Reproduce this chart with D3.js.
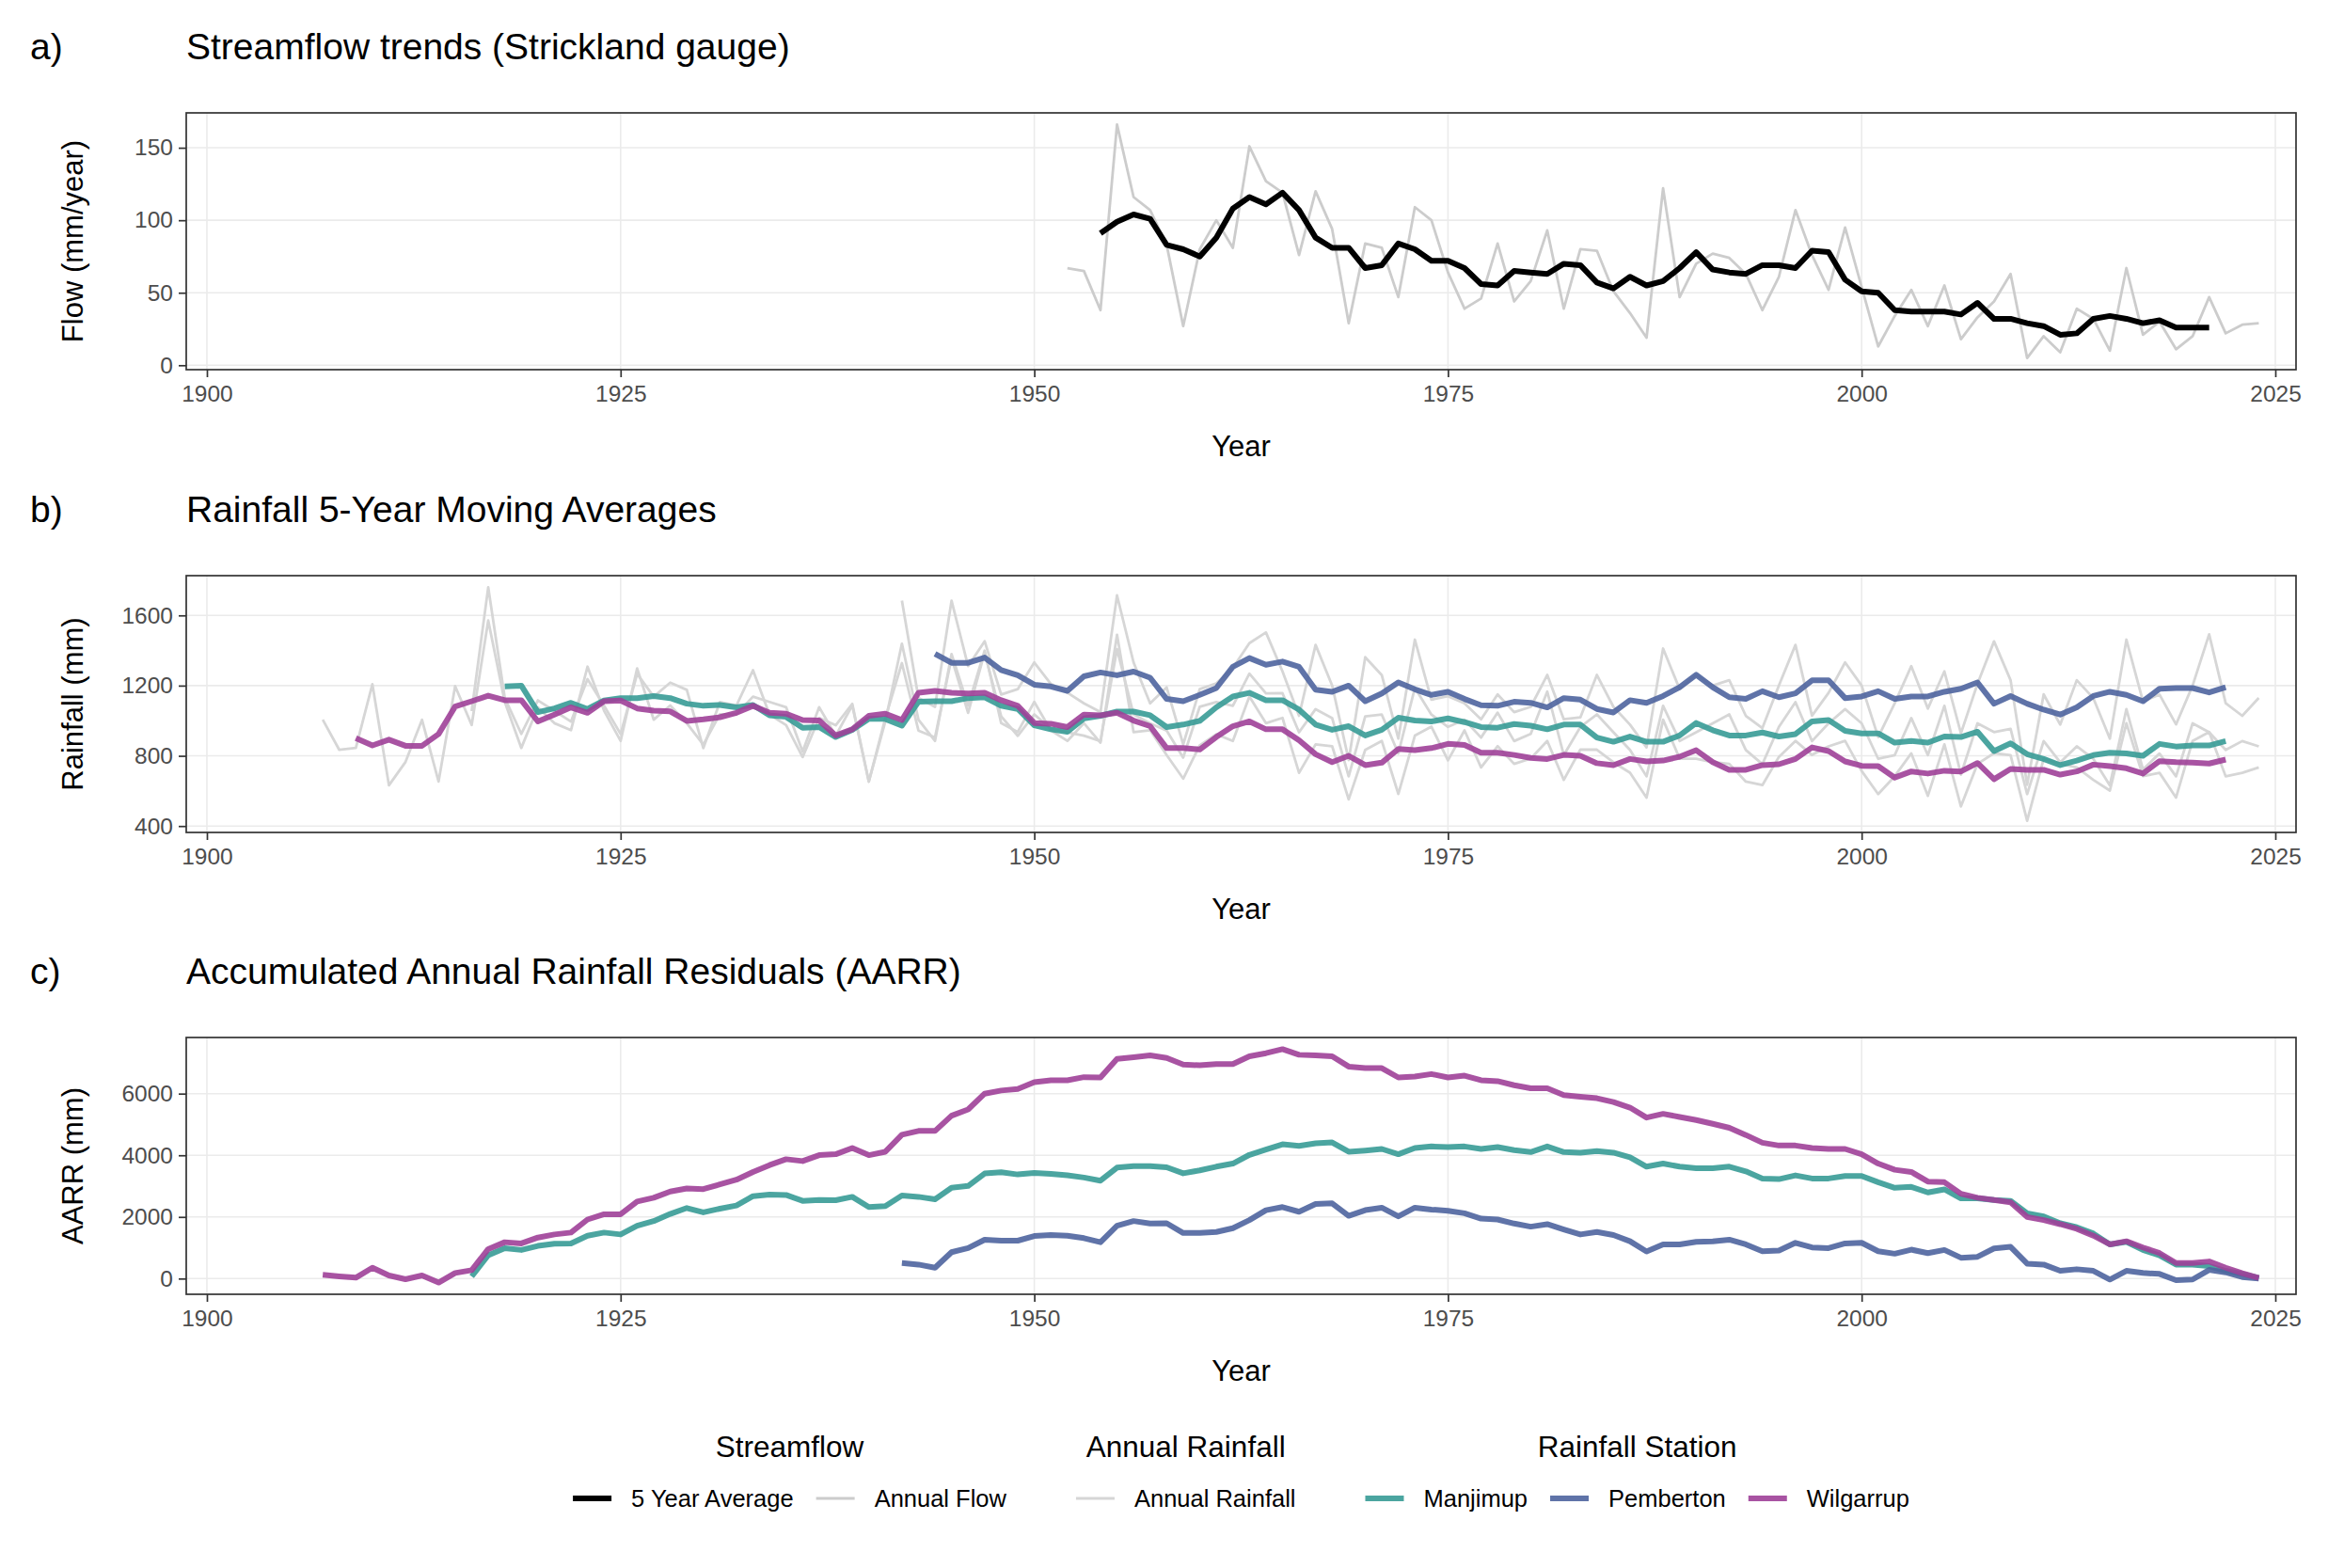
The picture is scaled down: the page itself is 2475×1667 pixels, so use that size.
<!DOCTYPE html>
<html>
<head>
<meta charset="utf-8">
<script src="https://cdn.jsdelivr.net/npm/d3@7"></script>
<style>
  body { margin: 0; background: #fff; }
  svg { display: block; }
  text { font-family: "Liberation Sans", Arial, Helvetica, sans-serif; }
</style>
</head>
<body>
<svg id="chart"></svg>
<script>
// ---- data ----
const xTicks = [1900, 1925, 1950, 1975, 2000, 2025]
const flowTicks = [0, 50, 100, 150]
const rainTicks = [400, 800, 1200, 1600]
const aarrTicks = [0, 2000, 4000, 6000]

const stations = ['Manjimup', 'Pemberton', 'Wilgarrup']

// Strickland gauge streamflow, mm/year
const flowStart = 1952
const annualFlow = [67, 65, 38, 166, 116, 107, 83, 27, 80, 100, 81, 151, 127, 119, 76, 120, 94, 29, 84, 81,
  47, 109, 100, 64, 39, 46, 84, 44, 58, 93, 39, 80, 79, 51, 36, 19, 122, 47, 70, 77,
  74, 63, 38, 61, 107, 76, 52, 95, 54, 13, 34, 52, 27, 55, 18, 33, 44, 63, 5, 20,
  9, 39, 32, 10, 67, 21, 30, 11, 20, 47, 22, 28, 29]
const flowAvgStart = 1954
const flowAvg5 = [91, 99, 104, 101, 83, 80, 75, 88, 108, 116, 111, 119, 107, 88, 81, 81, 67, 69, 84, 80,
  72, 72, 67, 56, 55, 65, 64, 63, 70, 69, 57, 53, 61, 55, 58, 67, 78, 66, 64, 63,
  69, 69, 67, 79, 78, 59, 51, 50, 38, 37, 37, 37, 35, 43, 32, 32, 29, 27, 21, 22,
  32, 34, 32, 29, 31, 26, 26, 26]

// annual rainfall, mm
const manjimupStart = 1916
const manjimupRain = [1055, 1760, 1130, 925, 1116, 1056, 995, 1237, 1086, 924, 1267, 1137, 1217, 1176, 844, 1106, 1086, 1288, 1035, 975,
  793, 1016, 974, 1096, 653, 1015, 1328, 944, 905, 1358, 1045, 1389, 1025, 914, 1036, 955, 934, 915, 884, 1408,
  1036, 985, 944, 790, 1080, 1106, 1085, 1268, 1156, 1157, 934, 1066, 1015, 683, 1025, 1035, 814, 1187, 1035, 965,
  1005, 904, 1046, 884, 925, 1166, 804, 964, 1036, 934, 834, 683, 1085, 885, 934, 985, 1036, 833, 753, 965,
  1106, 884, 985, 1066, 985, 783, 804, 1015, 804, 1085, 693, 985, 935, 954, 582, 884, 763, 854, 783, 632,
  1066, 723, 813, 683, 985, 934, 834, 884, 854]
const pembertonStart = 1942
const pembertonRain = [1684, 1130, 1079, 1684, 1311, 1453, 1149, 1180, 1332, 1210, 1160, 1099, 1049, 1714, 1332, 1099, 1190, 865, 1180, 1213,
  1301, 1442, 1503, 1281, 1028, 1432, 1201, 776, 1362, 1260, 898, 1462, 1120, 1140, 1099, 1008, 1150, 1049, 1079, 1261,
  1008, 1019, 1261, 1079, 978, 848, 1411, 1180, 1261, 1200, 1231, 1028, 958, 1201, 1432, 1029, 1159, 1332, 1200, 907,
  1100, 1311, 1069, 1281, 928, 1210, 1452, 1231, 635, 1150, 978, 1231, 1129, 898, 1462, 1110, 1149, 979, 1200, 1492,
  1100, 1028, 1130]
const wilgarrupStart = 1907
const wilgarrupRain = [1006, 834, 845, 1208, 632, 765, 1005, 654, 1197, 976, 1571, 1107, 845, 1076, 986, 946, 1308, 1057, 885, 1298,
  1006, 1087, 986, 864, 1037, 1036, 1137, 1107, 1077, 824, 1077, 915, 1087, 653, 996, 1439, 1006, 885, 1380, 1086,
  1399, 986, 936, 1107, 945, 885, 986, 875, 1490, 935, 946, 804, 670, 860, 923, 885, 1138, 986, 1016, 703,
  865, 855, 552, 834, 885, 583, 915, 966, 774, 945, 734, 855, 754, 784, 885, 663, 835, 835, 763, 704,
  562, 1006, 784, 784, 764, 754, 653, 633, 794, 885, 805, 854, 885, 714, 582, 684, 814, 572, 865, 512,
  754, 815, 804, 430, 784, 754, 734, 663, 602, 986, 684, 703, 562, 885, 936, 683, 703, 734]

// 5-year moving averages, mm (centred)
const manjimupMAStart = 1918
const manjimupMA = [1195, 1200, 1049, 1070, 1102, 1067, 1115, 1129, 1129, 1141, 1129, 1097, 1085, 1090, 1076, 1090, 1031, 1022, 960, 964,
  907, 948, 1010, 1010, 972, 1108, 1111, 1111, 1129, 1134, 1085, 1067, 974, 951, 937, 1013, 1028, 1052, 1052, 1031,
  964, 978, 999, 1076, 1138, 1159, 1117, 1117, 1063, 978, 948, 969, 916, 948, 1017, 1001, 996, 1013, 992, 964,
  960, 981, 972, 951, 978, 978, 904, 880, 910, 880, 880, 916, 987, 946, 916, 916, 933, 910, 924, 996,
  1004, 942, 928, 928, 875, 885, 875, 910, 907, 937, 827, 871, 809, 782, 747, 773, 804, 818, 814, 800,
  868, 853, 859, 859, 884]
const pembertonMAStart = 1944
const pembertonMA = [1381, 1330, 1330, 1360, 1289, 1259, 1205, 1195, 1170, 1253, 1275, 1259, 1280, 1245, 1124, 1111, 1147, 1186, 1307, 1357,
  1319, 1337, 1307, 1177, 1165, 1200, 1111, 1155, 1218, 1179, 1147, 1165, 1124, 1088, 1085, 1108, 1102, 1076, 1129, 1120,
  1067, 1047, 1117, 1102, 1141, 1191, 1262, 1191, 1134, 1125, 1168, 1134, 1156, 1230, 1230, 1129, 1138, 1168, 1124, 1138,
  1138, 1165, 1182, 1218, 1097, 1141, 1097, 1063, 1035, 1076, 1141, 1165, 1147, 1111, 1182, 1186, 1186, 1161, 1191]
const wilgarrupMAStart = 1909
const wilgarrupMA = [901, 859, 892, 857, 857, 924, 1081, 1111, 1143, 1117, 1117, 996, 1035, 1076, 1045, 1111, 1115, 1070, 1058, 1053,
  999, 1008, 1020, 1045, 1085, 1045, 1040, 1004, 1001, 916, 951, 1028, 1040, 1004, 1159, 1170, 1159, 1155, 1159, 1117,
  1085, 987, 983, 964, 1035, 1031, 1045, 1001, 969, 844, 844, 836, 907, 969, 996, 951, 951, 889, 809, 764,
  800, 747, 761, 839, 832, 844, 868, 862, 818, 818, 805, 788, 782, 805, 800, 758, 747, 782, 768, 773,
  795, 832, 764, 720, 720, 747, 752, 782, 848, 827, 768, 743, 741, 676, 711, 699, 715, 711, 759, 667,
  725, 720, 720, 693, 711, 750, 741, 729, 699, 770, 764, 761, 756, 779]

// accumulated annual rainfall residuals, mm
const manjimupAARR = [70, 756, 988, 928, 1059, 1130, 1140, 1392, 1493, 1432, 1714, 1866, 2098, 2289, 2148, 2269, 2370, 2673, 2723, 2713,
  2521, 2552, 2541, 2652, 2320, 2350, 2693, 2652, 2572, 2945, 3005, 3409, 3449, 3378, 3429, 3399, 3348, 3278, 3177, 3600,
  3651, 3651, 3610, 3415, 3510, 3631, 3731, 4014, 4185, 4357, 4306, 4387, 4417, 4115, 4155, 4205, 4034, 4236, 4286, 4266,
  4286, 4205, 4266, 4165, 4105, 4286, 4105, 4084, 4135, 4084, 3933, 3631, 3731, 3631, 3580, 3580, 3631, 3479, 3247, 3227,
  3348, 3247, 3247, 3328, 3328, 3126, 2945, 2975, 2794, 2894, 2602, 2602, 2552, 2521, 2118, 2017, 1795, 1664, 1462, 1109,
  1190, 928, 756, 454, 454, 403, 252, 151, 20]
const pembertonAARR = [504, 454, 353, 857, 988, 1261, 1230, 1230, 1382, 1412, 1392, 1311, 1180, 1714, 1866, 1785, 1795, 1480, 1480, 1513,
  1634, 1896, 2219, 2320, 2168, 2420, 2441, 2037, 2219, 2299, 2017, 2299, 2239, 2199, 2118, 1946, 1916, 1785, 1684, 1765,
  1593, 1432, 1513, 1412, 1210, 878, 1109, 1109, 1190, 1210, 1261, 1109, 887, 908, 1160, 1009, 988, 1140, 1160, 887,
  807, 938, 827, 928, 676, 706, 978, 1029, 484, 454, 252, 303, 252, -30, 252, 182, 151, -50, -30, 282,
  202, 50, 0]
const wilgarrupAARR = [121, 70, 30, 353, 100, -20, 100, -131, 181, 272, 958, 1180, 1140, 1331, 1432, 1493, 1916, 2088, 2088, 2501,
  2622, 2824, 2925, 2904, 3056, 3207, 3459, 3681, 3873, 3812, 4004, 4034, 4236, 4004, 4115, 4669, 4790, 4790, 5285, 5486,
  6000, 6101, 6152, 6374, 6434, 6434, 6535, 6525, 7130, 7180, 7241, 7160, 6945, 6920, 6958, 6958, 7211, 7312, 7443, 7261,
  7241, 7211, 6878, 6827, 6827, 6525, 6555, 6636, 6525, 6585, 6434, 6404, 6273, 6172, 6172, 5950, 5900, 5850, 5728, 5547,
  5224, 5345, 5244, 5143, 5022, 4891, 4659, 4407, 4316, 4316, 4236, 4205, 4205, 4034, 3731, 3530, 3459, 3146, 3126, 2753,
  2622, 2552, 2471, 1997, 1896, 1765, 1614, 1392, 1109, 1210, 1009, 827, 504, 504, 555, 353, 171, 20]

// ---- styling ----
const W = 2475, H = 1667
const left = 198, right = 2441, panelH = 273
const stationColor = d3.scaleOrdinal().domain(stations).range(['#379B96', '#4E649E', '#9E4098'])
const flowGrey = '#CCCCCC', rainGrey = '#D6D6D6'

const svg = d3.select('#chart').attr('width', W).attr('height', H)
svg.append('rect').attr('width', W).attr('height', H).attr('fill', '#fff')

const x = d3.scaleLinear().domain([1898.75, 2026.25]).range([left, right])
const toPoints = (start, vals) => vals.map((v, i) => ({ year: start + i, value: v }))

function drawPanel(top, tag, title, yTitle, yTicks, allValues) {
  const ext = d3.extent(allValues)
  const pad = (ext[1] - ext[0]) * 0.05
  const y = d3.scaleLinear().domain([ext[0] - pad, ext[1] + pad]).range([top + panelH, top])
  const g = svg.append('g')

  // grid
  g.selectAll('.gx').data(xTicks).enter().append('line')
    .attr('x1', d => x(d)).attr('x2', d => x(d))
    .attr('y1', top).attr('y2', top + panelH)
    .attr('stroke', '#EBEBEB').attr('stroke-width', 1.6)
  g.selectAll('.gy').data(yTicks).enter().append('line')
    .attr('x1', left).attr('x2', right)
    .attr('y1', d => y(d)).attr('y2', d => y(d))
    .attr('stroke', '#EBEBEB').attr('stroke-width', 1.6)

  // titles
  svg.append('text').attr('x', 32).attr('y', top - 57).attr('font-size', 39).text(tag)
  svg.append('text').attr('x', left).attr('y', top - 57).attr('font-size', 39).text(title)
  svg.append('text').attr('x', (left + right) / 2).attr('y', top + panelH + 92)
    .attr('text-anchor', 'middle').attr('font-size', 31).text('Year')
  svg.append('text')
    .attr('transform', `translate(88,${top + panelH / 2}) rotate(-90)`)
    .attr('text-anchor', 'middle').attr('font-size', 31).text(yTitle)

  return { g, y, top }
}

function finishPanel(p, yTicks) {
  p.g.append('rect').attr('x', left).attr('y', p.top).attr('width', right - left).attr('height', panelH)
    .attr('fill', 'none').attr('stroke', '#333').attr('stroke-width', 1.7)

  const ax = p.g.append('g').attr('transform', `translate(0,${p.top + panelH})`)
    .call(d3.axisBottom(x).tickValues(xTicks).tickFormat(d3.format('d')).tickSize(8).tickPadding(9))
  const ay = p.g.append('g').attr('transform', `translate(${left},0)`)
    .call(d3.axisLeft(p.y).tickValues(yTicks).tickFormat(d3.format('d')).tickSize(8).tickPadding(6))
  for (const a of [ax, ay]) {
    a.select('.domain').remove()
    a.selectAll('line').attr('stroke', '#333').attr('stroke-width', 1.7)
    a.selectAll('text').attr('fill', '#4D4D4D').attr('font-size', 24.5)
      .attr('font-family', '"Liberation Sans", Arial, Helvetica, sans-serif')
  }
}

function drawLine(p, pts, color, width, opacity) {
  const line = d3.line().x(d => x(d.year)).y(d => p.y(d.value))
  p.g.append('path').datum(pts).attr('d', line)
    .attr('fill', 'none').attr('stroke', color).attr('stroke-width', width)
    .attr('stroke-opacity', opacity).attr('stroke-linejoin', 'round')
}

// a) streamflow
const pa = drawPanel(120, 'a)', 'Streamflow trends (Strickland gauge)', 'Flow (mm/year)', flowTicks,
  annualFlow.concat(flowAvg5))
drawLine(pa, toPoints(flowStart, annualFlow), flowGrey, 2.8, 1)
drawLine(pa, toPoints(flowAvgStart, flowAvg5), '#000', 6, 1)
finishPanel(pa, flowTicks)

// b) rainfall moving averages
const rainSeries = [toPoints(manjimupStart, manjimupRain), toPoints(pembertonStart, pembertonRain), toPoints(wilgarrupStart, wilgarrupRain)]
const maSeries = [toPoints(manjimupMAStart, manjimupMA), toPoints(pembertonMAStart, pembertonMA), toPoints(wilgarrupMAStart, wilgarrupMA)]
const pb = drawPanel(612, 'b)', 'Rainfall 5-Year Moving Averages', 'Rainfall (mm)', rainTicks,
  manjimupRain.concat(pembertonRain, wilgarrupRain, manjimupMA, pembertonMA, wilgarrupMA))
rainSeries.forEach(s => drawLine(pb, s, rainGrey, 2.8, 1))
maSeries.forEach((s, i) => drawLine(pb, s, stationColor(stations[i]), 6, 0.9))
finishPanel(pb, rainTicks)

// c) AARR
const aarrSeries = [toPoints(manjimupStart, manjimupAARR), toPoints(pembertonStart, pembertonAARR), toPoints(wilgarrupStart, wilgarrupAARR)]
const pc = drawPanel(1103, 'c)', 'Accumulated Annual Rainfall Residuals (AARR)', 'AARR (mm)', aarrTicks,
  manjimupAARR.concat(pembertonAARR, wilgarrupAARR))
aarrSeries.forEach((s, i) => drawLine(pc, s, stationColor(stations[i]), 6, 0.9))
finishPanel(pc, aarrTicks)

// ---- legend ----
const legendGroups = [
  { title: 'Streamflow', items: [['5 Year Average', '#000', 6, 1], ['Annual Flow', flowGrey, 3, 1]] },
  { title: 'Annual Rainfall', items: [['Annual Rainfall', rainGrey, 3, 1]] },
  { title: 'Rainfall Station', items: stations.map(s => [s, stationColor(s), 6, 0.9]) }
]
const keyW = 41, keyGap = 21, itemGap = 24, groupGap = 74
const titleY = 1549, itemY = 1593
const legend = svg.append('g')
let cursor = 0
legendGroups.forEach((grp, gi) => {
  const gStart = cursor
  grp.items.forEach((it, ii) => {
    legend.append('line').attr('x1', cursor).attr('x2', cursor + keyW)
      .attr('y1', itemY).attr('y2', itemY)
      .attr('stroke', it[1]).attr('stroke-width', it[2]).attr('stroke-opacity', it[3])
    const t = legend.append('text').attr('x', cursor + keyW + keyGap).attr('y', itemY + 9)
      .attr('font-size', 25.5).text(it[0])
    cursor += keyW + keyGap + t.node().getComputedTextLength()
    if (ii < grp.items.length - 1) cursor += itemGap
  })
  legend.append('text').attr('x', (gStart + cursor) / 2).attr('y', titleY)
    .attr('text-anchor', 'middle').attr('font-size', 31.5).text(grp.title)
  if (gi < legendGroups.length - 1) cursor += groupGap
})
legend.attr('transform', `translate(${(left + right) / 2 - cursor / 2},0)`)
</script>
</body>
</html>
